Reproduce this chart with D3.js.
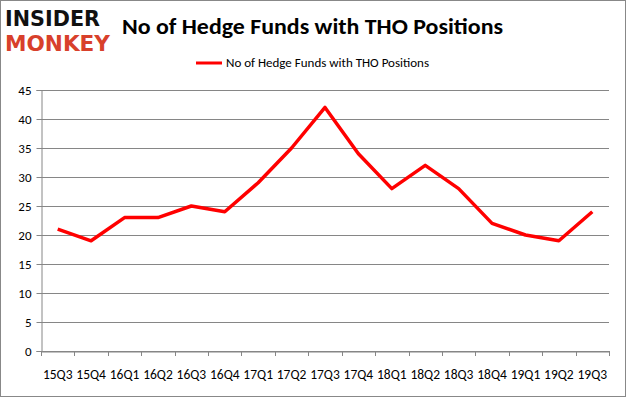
<!DOCTYPE html>
<html><head><meta charset="utf-8">
<script src="https://cdn.jsdelivr.net/npm/d3@7/dist/d3.min.js"></script>
<style>body{margin:0;background:#fff}svg{display:block}</style>
</head><body>
<script>
const categories = ["15Q3","15Q4","16Q1","16Q2","16Q3","16Q4","17Q1","17Q2","17Q3","17Q4","18Q1","18Q2","18Q3","18Q4","19Q1","19Q2","19Q3"];
const values = [21,19,23,23,25,24,29,35,42,34,28,32,28,22,20,19,24];
const yTicks = [0,5,10,15,20,25,30,35,40,45];
const seriesName = "No of Hedge Funds with THO Positions";
const title = "No of Hedge Funds with THO Positions";

(function(){
const W = 626, H = 397;
const svg = d3.select("body").append("svg").attr("width", W).attr("height", H);
svg.append("rect").attr("x",0.5).attr("y",0.5).attr("width",W-1).attr("height",H-1).attr("fill","#fff").attr("stroke","#888");

const font = "Calibri, Carlito, 'Open Sans', 'Liberation Sans', sans-serif";
const pL = 41, pR = 609, pT = 90, pB = 351;
const x = d3.scaleBand().domain(categories).range([pL, pR]);
const y = d3.scaleLinear().domain([0,45]).range([pB, pT]);

svg.append("g").selectAll("line").data(yTicks).join("line")
  .attr("x1", pL).attr("x2", pR)
  .attr("y1", d => Math.round(y(d))+0.5).attr("y2", d => Math.round(y(d))+0.5)
  .attr("stroke", "#868686").attr("stroke-width", 1);

const yAxis = svg.append("g").attr("transform", `translate(${pL+0.5},0)`)
  .call(d3.axisLeft(y).tickValues(yTicks).tickSize(5).tickPadding(5));
yAxis.select(".domain").attr("stroke","#868686");
yAxis.selectAll(".tick line").attr("stroke","#868686");
yAxis.selectAll("text").attr("font-family", font).attr("font-size", 13).attr("fill","#000");

const xAxis = svg.append("g").attr("transform", `translate(0,${Math.round(y(0))+0.5})`)
  .call(d3.axisBottom(x).tickSize(0).tickPadding(18));
xAxis.select(".domain").attr("stroke","#868686");
xAxis.selectAll("text").attr("font-family", font).attr("font-size", 13.5).attr("fill","#000");
const bounds = categories.map(c => x(c)).concat([pR]);
svg.append("g").selectAll("line").data(bounds).join("line")
  .attr("x1", d => Math.round(d)+0.5).attr("x2", d => Math.round(d)+0.5)
  .attr("y1", Math.round(y(0))).attr("y2", Math.round(y(0))+5)
  .attr("stroke","#868686");

const line = d3.line().x((d,i) => x(categories[i]) + x.bandwidth()/2).y(d => y(d));
svg.append("path").datum(values).attr("d", line)
  .attr("fill","none").attr("stroke","#ff0000").attr("stroke-width",3.5).attr("stroke-linejoin","round");

svg.append("line").attr("x1",196).attr("x2",222).attr("y1",63).attr("y2",63).attr("stroke","#ff0000").attr("stroke-width",3);
svg.append("text").attr("x",226).attr("y",67).text(seriesName)
  .attr("font-family",font).attr("font-size",13).attr("fill","#000");

svg.append("text").attr("x",122).attr("y",34).text(title)
  .attr("font-family",font).attr("font-size",22).attr("font-weight","bold").attr("fill","#000")
  .attr("textLength",381).attr("lengthAdjust","spacingAndGlyphs");

svg.append("text").attr("x",5).attr("y",26).text("INSIDER")
  .attr("font-family","'DejaVu Sans', sans-serif").attr("font-weight","bold").attr("font-size",21)
  .attr("textLength",95).attr("lengthAdjust","spacingAndGlyphs").attr("fill","#111");
svg.append("text").attr("x",5).attr("y",51).text("MONKEY")
  .attr("font-family","'DejaVu Sans', sans-serif").attr("font-weight","bold").attr("font-size",21)
  .attr("textLength",105).attr("lengthAdjust","spacingAndGlyphs").attr("fill","#d8402b");
})();
</script>
</body></html>
